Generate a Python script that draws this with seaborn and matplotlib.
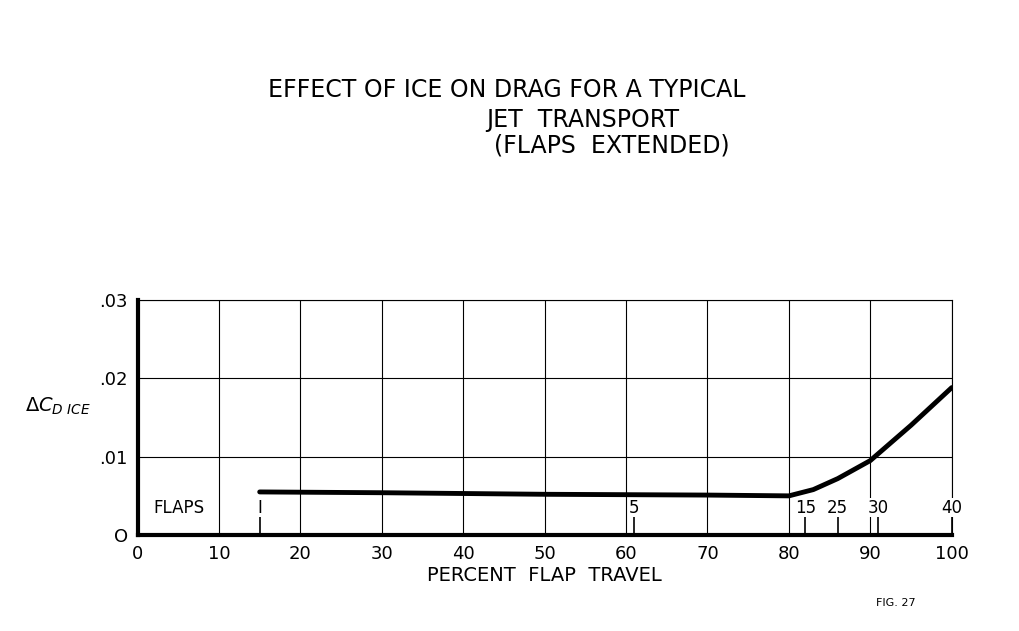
import matplotlib
matplotlib.use("Agg")
import matplotlib.pyplot as plt
import seaborn as sns
import pandas as pd

# percent flap travel vs delta CD ice
flap_travel = [15, 30, 50, 70, 80, 83, 86, 90, 95, 100]
delta_cd = [0.0055, 0.0054, 0.0052, 0.0051, 0.0050, 0.0058, 0.0072, 0.0095, 0.0140, 0.0188]

flap_pos = [15, 61, 82, 86, 91, 100]
flap_labels = ["I", "5", "15", "25", "30", "40"]

sns.set_style("white")
plt.rcParams['font.family'] = ['DejaVu Sans']
plt.rcParams['text.color'] = 'black'
plt.rcParams['xtick.color'] = 'black'
plt.rcParams['ytick.color'] = 'black'
plt.rcParams['axes.labelcolor'] = 'black'

fig = plt.figure(figsize=(10.19, 6.31), dpi=100)
ax = fig.add_axes([0.135, 0.152, 0.799, 0.373])

df = pd.DataFrame({"x": flap_travel, "y": delta_cd})
sns.lineplot(data=df, x="x", y="y", ax=ax, color="black", linewidth=3.5)

ax.set_xlim(0, 100)
ax.set_ylim(0, 0.03)
ax.set_xticks(range(0, 101, 10))
ax.set_xticklabels([str(v) for v in range(0, 101, 10)], fontsize=13)
ax.set_yticks([0, 0.01, 0.02, 0.03])
ax.set_yticklabels(["O", ".01", ".02", ".03"], fontsize=13)
ax.grid(True, color="black", linewidth=0.8)
for s in ["left", "bottom"]:
    ax.spines[s].set_linewidth(3)
    ax.spines[s].set_color("black")
for s in ["right", "top"]:
    ax.spines[s].set_linewidth(0.8)
    ax.spines[s].set_color("black")
ax.set_xlabel("PERCENT  FLAP  TRAVEL", fontsize=14, labelpad=2)
ax.set_ylabel(r"$\Delta C_{D\ ICE}$", fontsize=14, rotation=0, labelpad=30)

# flap setting markers
ax.text(2, 0.0035, "FLAPS", fontsize=12, va="center")
for p, lab in zip(flap_pos, flap_labels):
    ax.plot([p, p], [0, 0.0025], color="black", linewidth=1.2)
    ax.text(p, 0.0035, lab, fontsize=12, ha="center", va="center",
            bbox=dict(facecolor="white", edgecolor="none", pad=0.5))

fig.text(0.497, 0.857, "EFFECT OF ICE ON DRAG FOR A TYPICAL", ha="center", va="center", fontsize=17)
fig.text(0.572, 0.81, "JET  TRANSPORT", ha="center", va="center", fontsize=17)
fig.text(0.6, 0.77, "(FLAPS  EXTENDED)", ha="center", va="center", fontsize=17)
fig.text(0.86, 0.04, "FIG. 27", fontsize=8)

fig.savefig("out.png", dpi=100)
